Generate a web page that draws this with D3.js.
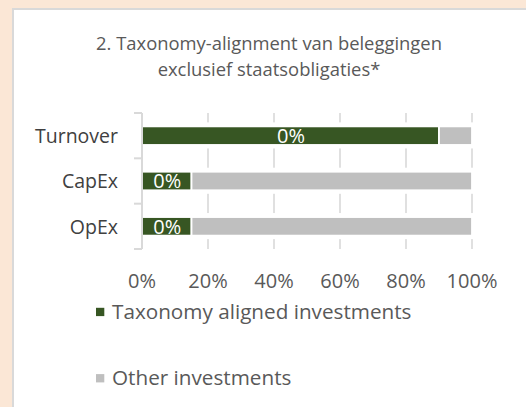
<!DOCTYPE html>
<html><head><meta charset="utf-8">
<script src="https://cdn.jsdelivr.net/npm/d3@7"></script>
<style>html,body{margin:0;padding:0;background:#FBE7D6;}svg{display:block;}</style>
</head><body>
<svg id="chart" width="526" height="407"></svg>
<script>
const titleLines = ["2. Taxonomy-alignment van beleggingen", "exclusief staatsobligaties*"];
const categories = ["Turnover", "CapEx", "OpEx"];
const alignedValues = [0.90, 0.15, 0.15];
const otherValues = [0.10, 0.85, 0.85];
const barLabels = ["0%", "0%", "0%"];
const xTicks = [0, 0.2, 0.4, 0.6, 0.8, 1.0];
const seriesNames = ["Taxonomy aligned investments", "Other investments"];
const seriesColors = ["#375623", "#BFBFBF"];

const svg = d3.select("#chart");
const font = "'Open Sans', sans-serif";

// panel
svg.append("rect").attr("x", 13).attr("y", 9).attr("width", 520).attr("height", 410)
  .attr("fill", "#fff").attr("stroke", "#D9D9D9").attr("stroke-width", 2);

// title
svg.append("g").selectAll("text").data(titleLines).join("text")
  .attr("x", 269).attr("y", (d, i) => 49.5 + i * 26)
  .attr("text-anchor", "middle").attr("font-family", font).attr("font-size", 18.4)
  .attr("fill", "#595959").text(d => d);

const x = d3.scaleLinear().domain([0, 1]).range([142, 472]);
const y = d3.scaleBand().domain(categories).range([113, 249]).paddingInner(0.59).paddingOuter(0.295);

// gridlines
svg.append("g").selectAll("line").data(xTicks.slice(1)).join("line")
  .attr("x1", d => x(d)).attr("x2", d => x(d)).attr("y1", 113).attr("y2", 249)
  .attr("stroke", "#D9D9D9").attr("stroke-width", 1.6);

// masks behind bars
svg.append("g").selectAll("rect").data(categories).join("rect")
  .attr("x", x(0)).attr("width", x(1) - x(0) + 3)
  .attr("y", d => y(d) - 4).attr("height", y.bandwidth() + 7.5)
  .attr("fill", "#fff");

// stacked bars
const stackData = categories.map((c, i) => ({cat: c, aligned: alignedValues[i], other: otherValues[i]}));
const series = d3.stack().keys(["aligned", "other"])(stackData);
svg.append("g").selectAll("g").data(series).join("g")
  .attr("fill", (d, i) => seriesColors[i])
  .selectAll("rect").data(d => d).join("rect")
  .attr("x", d => x(d[0])).attr("width", d => x(d[1]) - x(d[0]))
  .attr("y", d => y(d.data.cat)).attr("height", y.bandwidth())
  .attr("stroke", "#fff").attr("stroke-width", 1.8);

// bar labels
svg.append("g").selectAll("text").data(categories).join("text")
  .attr("x", (d, i) => (x(0) + x(alignedValues[i])) / 2 + 0.5)
  .attr("y", d => y(d) + y.bandwidth() / 2 + 7.2)
  .attr("text-anchor", "middle").attr("font-family", font).attr("font-size", 20)
  .attr("fill", "#fff").text((d, i) => barLabels[i]);

// category axis
const step = y.step();
const bounds = d3.range(categories.length + 1).map(i => y.range()[0] + i * step);
const axisG = svg.append("g");
axisG.append("line").attr("x1", x(0)).attr("x2", x(0)).attr("y1", 113).attr("y2", 249)
  .attr("stroke", "#D9D9D9").attr("stroke-width", 2);
axisG.selectAll("line.tick").data(bounds).join("line").attr("class", "tick")
  .attr("x1", x(0) - 8).attr("x2", x(0)).attr("y1", d => d).attr("y2", d => d)
  .attr("stroke", "#D9D9D9").attr("stroke-width", 2);
axisG.selectAll("text").data(categories).join("text")
  .attr("x", 118).attr("y", d => y(d) + y.bandwidth() / 2 + 7.3)
  .attr("text-anchor", "end").attr("font-family", font).attr("font-size", 19.5)
  .attr("fill", "#404040").text(d => d);

// x tick labels
svg.append("g").selectAll("text").data(xTicks).join("text")
  .attr("x", d => x(d)).attr("y", 288.3)
  .attr("text-anchor", "middle").attr("font-family", font).attr("font-size", 20)
  .attr("fill", "#595959").text(d => d3.format(".0%")(d));

// legend
const leg = svg.append("g").selectAll("g").data(seriesNames).join("g")
  .attr("transform", (d, i) => `translate(0,${i * 66.3})`);
leg.append("rect").attr("x", 96).attr("y", 307.8).attr("width", 8.3).attr("height", 8.3)
  .attr("fill", (d, i) => seriesColors[i]);
leg.append("text").attr("x", 112).attr("y", 319).attr("font-family", font).attr("font-size", 20.7)
  .attr("fill", "#595959").text(d => d);
</script>
</body></html>
